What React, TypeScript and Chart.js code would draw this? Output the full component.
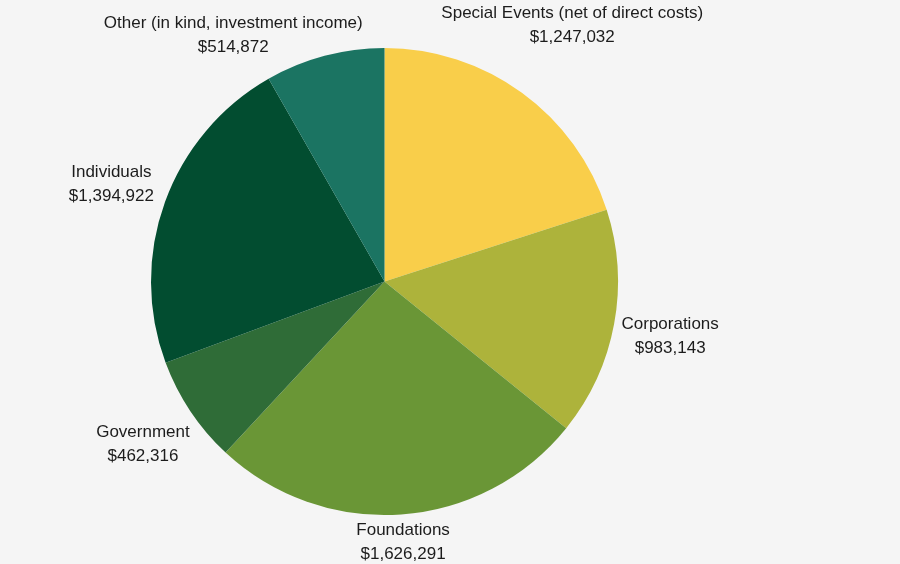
import React, { useEffect, useRef } from "react";
import { Chart, registerables } from "chart.js";

Chart.register(...registerables);

const categories = [
  "Special Events (net of direct costs)",
  "Corporations",
  "Foundations",
  "Government",
  "Individuals",
  "Other (in kind, investment income)",
];
const amounts = [1247032, 983143, 1626291, 462316, 1394922, 514872];
const sliceColors = ["#f9ce4a", "#adb33b", "#6a9636", "#2f6c37", "#024d30", "#1b7462"];

const fmt = (v: number) => "$" + v.toLocaleString("en-US");

const FONT = '17px "Liberation Sans", Arial, sans-serif';
const LINE_H = 24;
const TEXT_SHIFT = 1.5;
const LABEL_GAP = 57;
const SEP_PAD = 78;

const outerLabels = {
  id: "outerLabels",
  afterDatasetsDraw(chart: any) {
    const ctx: CanvasRenderingContext2D = chart.ctx;
    const meta = chart.getDatasetMeta(0);
    const W = chart.width;
    const H = chart.height;
    ctx.save();
    ctx.font = FONT;
    const items = meta.data.map((arc: any, i: number) => {
      const p = arc.getProps(["x", "y", "startAngle", "endAngle", "outerRadius"], true);
      const lines = [categories[i], fmt(amounts[i])];
      const w = Math.max(...lines.map((l) => ctx.measureText(l).width));
      return {
        cx0: p.x,
        cy0: p.y,
        angle: (p.startAngle + p.endAngle) / 2,
        dist: p.outerRadius + LABEL_GAP,
        w,
        h: LINE_H * 2 - 1,
        lines,
        x: 0,
        y: 0,
      };
    });
    const place = (it: any) => {
      let d = it.dist;
      const dx = Math.cos(it.angle);
      const dy = Math.sin(it.angle);
      if (dy < -1e-6) d = Math.min(d, (it.cy0 - it.h / 2) / -dy);
      if (dy > 1e-6) d = Math.min(d, (H - it.h / 2 - it.cy0) / dy);
      if (dx < -1e-6) d = Math.min(d, (it.cx0 - it.w / 2) / -dx);
      if (dx > 1e-6) d = Math.min(d, (W - it.w / 2 - it.cx0) / dx);
      it.x = it.cx0 + dx * d;
      it.y = it.cy0 + dy * d;
    };
    const overlap = (a: any, b: any, pad: number) =>
      Math.abs(a.x - b.x) < (a.w + b.w) / 2 + pad && Math.abs(a.y - b.y) < (a.h + b.h) / 2;
    items.forEach(place);
    for (let j = 0; j < items.length; j++) {
      for (let i = 0; i < j; i++) {
        const a = items[i];
        const b = items[j];
        if (!overlap(a, b, 0)) continue;
        a.dist = 1e5;
        place(a);
        let diff = a.angle - b.angle;
        while (diff > Math.PI) diff -= 2 * Math.PI;
        while (diff <= -Math.PI) diff += 2 * Math.PI;
        const sign = diff > 0 ? -1 : 1;
        let guard = 0;
        while (overlap(a, b, SEP_PAD) && guard < 400) {
          b.angle += sign * (Math.PI / 360);
          place(b);
          guard++;
        }
      }
    }
    ctx.fillStyle = "#1c1c1c";
    ctx.textAlign = "center";
    ctx.textBaseline = "middle";
    items.forEach((it: any) => {
      ctx.fillText(it.lines[0], it.x, it.y - LINE_H / 2 + TEXT_SHIFT);
      ctx.fillText(it.lines[1], it.x, it.y + LINE_H / 2 + TEXT_SHIFT);
    });
    ctx.restore();
  },
};

export default function App() {
  const ref = useRef<HTMLCanvasElement | null>(null);
  useEffect(() => {
    document.body.style.margin = "0";
    if (!ref.current) return;
    const chart = new Chart(ref.current, {
      type: "pie",
      data: {
        labels: categories,
        datasets: [
          {
            data: amounts,
            backgroundColor: sliceColors,
            borderWidth: 0,
          },
        ],
      },
      options: {
        responsive: false,
        maintainAspectRatio: false,
        animation: false,
        devicePixelRatio: 1,
        layout: { padding: { top: 48, bottom: 49, left: 151, right: 282 } },
        plugins: {
          legend: { display: false },
          tooltip: { enabled: false },
        },
      },
      plugins: [outerLabels],
    });
    return () => chart.destroy();
  }, []);
  return (
    <div style={{ width: 900, height: 564, background: "#f5f5f5" }}>
      <canvas ref={ref} width={900} height={564} style={{ display: "block" }} />
    </div>
  );
}
